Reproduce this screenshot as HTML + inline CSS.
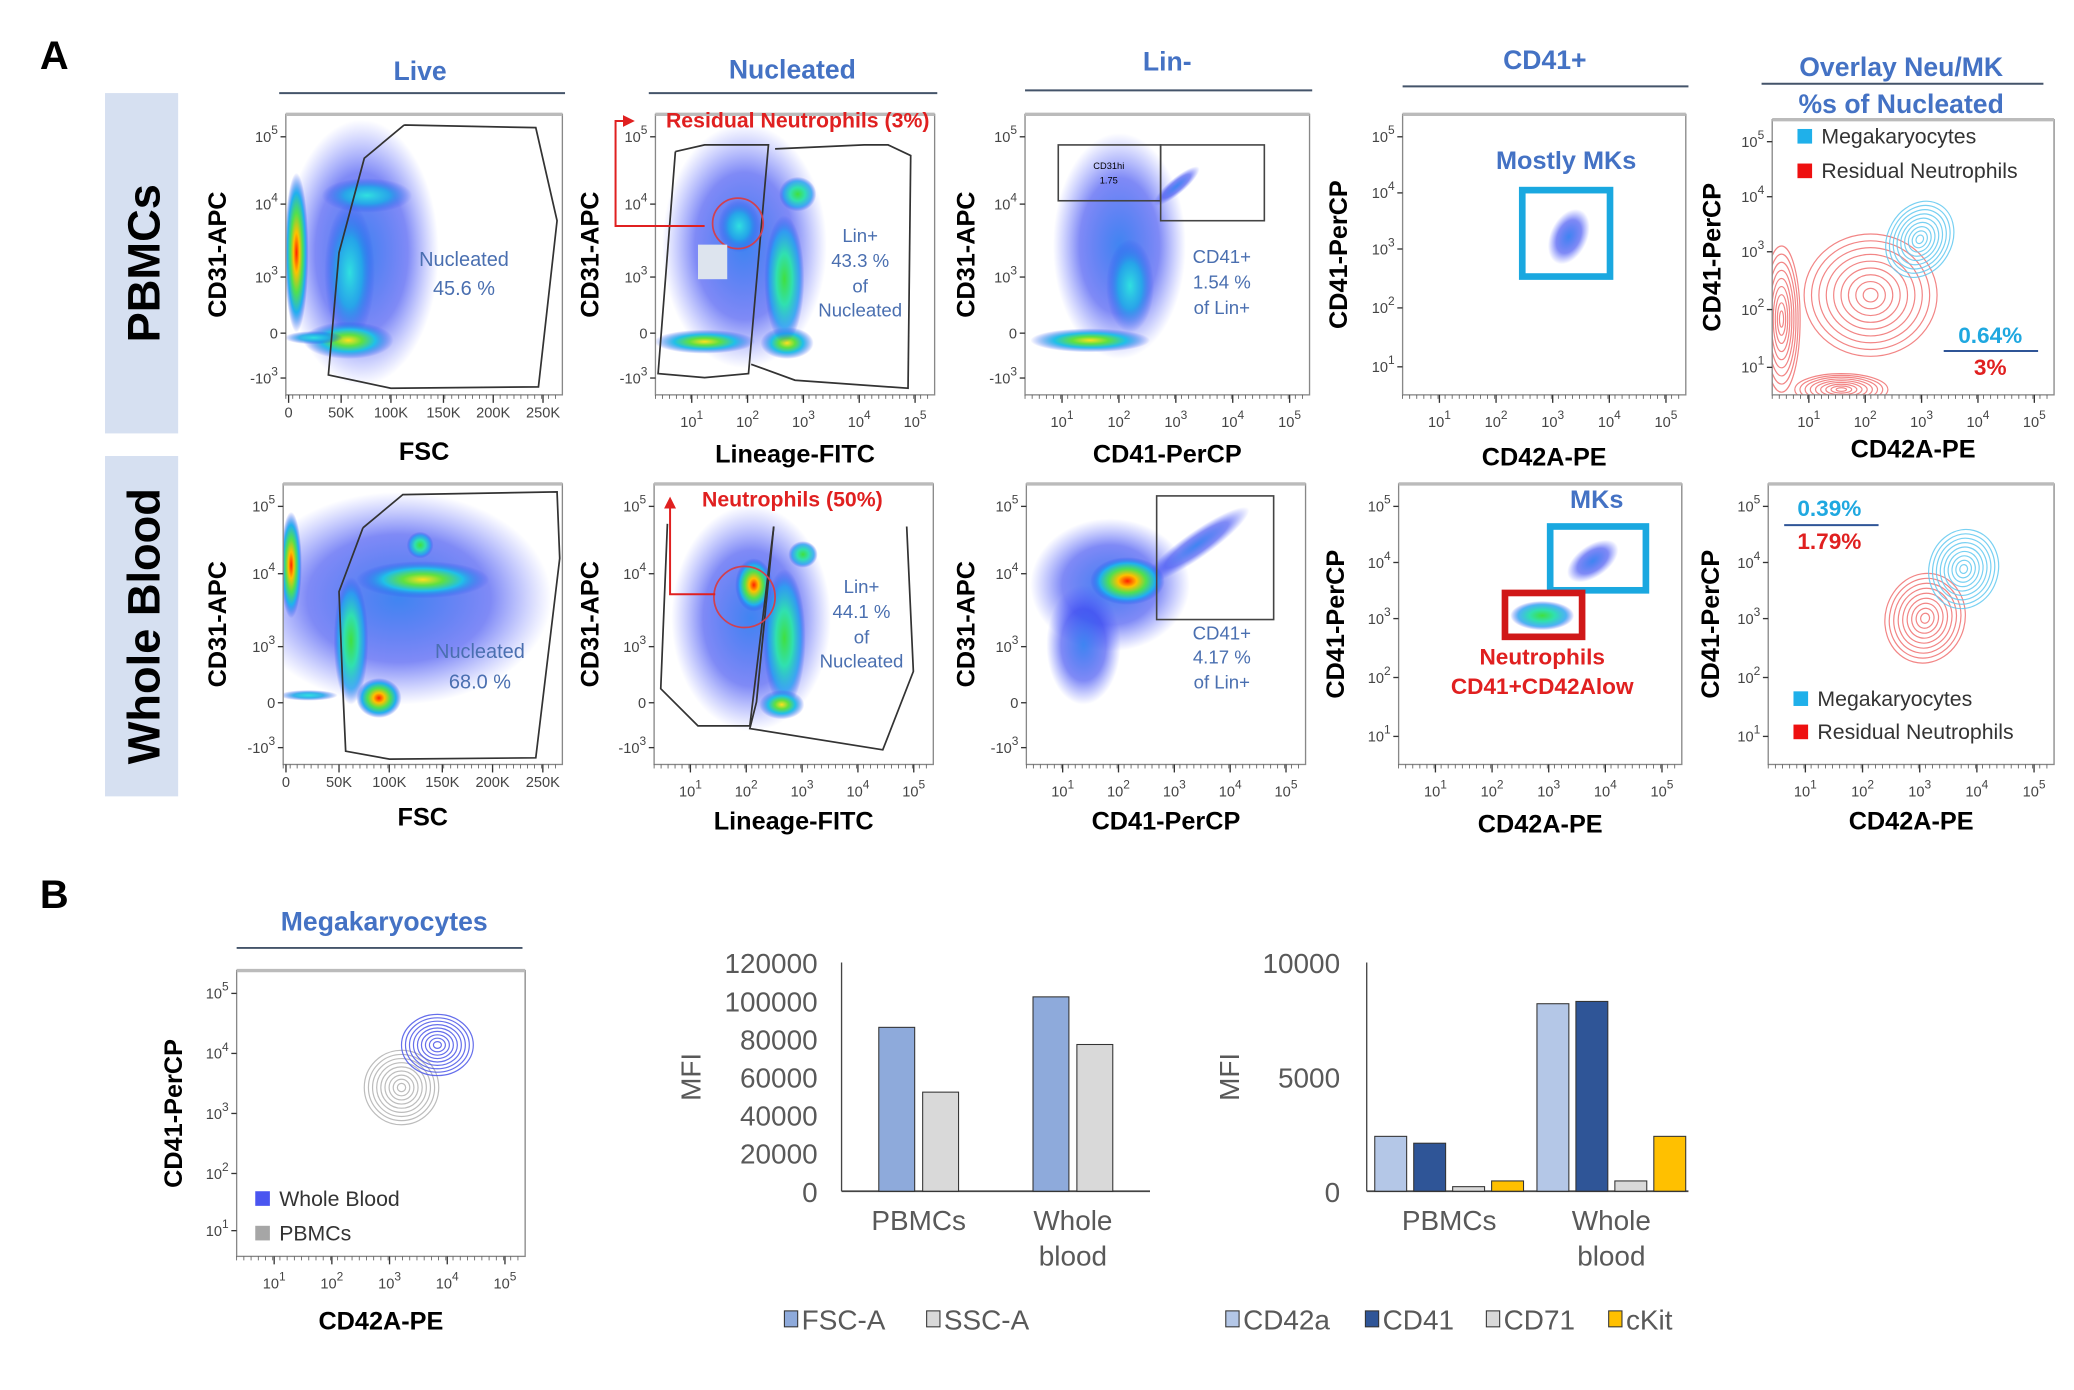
<!DOCTYPE html>
<html><head><meta charset="utf-8"><style>
html,body{margin:0;padding:0;background:#fff}
svg{display:block}
text{font-family:"Liberation Sans",sans-serif}
</style></head><body>
<svg id="fig" width="2074" height="1390" viewBox="0 0 1560 1045.5" xmlns="http://www.w3.org/2000/svg">
<defs>
<radialGradient id="g-blue"><stop offset="0" stop-color="#2a78f0" stop-opacity="0.9"/><stop offset="0.6" stop-color="#2a3cf0" stop-opacity="0.6"/><stop offset="1" stop-color="#4050ff" stop-opacity="0"/></radialGradient>
<radialGradient id="g-cyan"><stop offset="0" stop-color="#30e0e0"/><stop offset="0.5" stop-color="#20a8e8" stop-opacity="0.9"/><stop offset="1" stop-color="#2a40f0" stop-opacity="0"/></radialGradient>
<radialGradient id="g-green"><stop offset="0" stop-color="#40e040"/><stop offset="0.4" stop-color="#30e0b0"/><stop offset="0.75" stop-color="#20a0f0" stop-opacity="0.8"/><stop offset="1" stop-color="#2a40f0" stop-opacity="0"/></radialGradient>
<radialGradient id="g-warm"><stop offset="0" stop-color="#ffe020"/><stop offset="0.3" stop-color="#60e040"/><stop offset="0.6" stop-color="#20c0e8"/><stop offset="1" stop-color="#2a40f0" stop-opacity="0"/></radialGradient>
<radialGradient id="g-heat"><stop offset="0" stop-color="#ff2000"/><stop offset="0.25" stop-color="#ffc000"/><stop offset="0.5" stop-color="#50e050"/><stop offset="0.75" stop-color="#20b0f0"/><stop offset="1" stop-color="#2a40f0" stop-opacity="0"/></radialGradient>
<marker id="arr" markerWidth="6" markerHeight="6" refX="3" refY="3" orient="auto"><path d="M0,0 L6,3 L0,6 z" fill="#e02020"/></marker>
</defs>
</svg>
<script>
// ---- bar chart data ----
const groups = ["PBMCs", "Whole blood"];
const fscA = [86000, 102000];
const sscA = [52000, 77000];
const ticks1 = [0, 20000, 40000, 60000, 80000, 100000, 120000];
const cd42a = [2400, 8200];
const cd41 = [2100, 8300];
const cd71 = [200, 450];
const ckit = [450, 2400];
const ticks2 = [0, 5000, 10000];

const NS = "http://www.w3.org/2000/svg";
const svg = document.getElementById('fig');
function mk(tag, attrs, name, parent) {
  const el = document.createElementNS(NS, tag);
  for (const k in attrs) el.setAttribute(k, attrs[k]);
  
  
  (parent || svg).appendChild(el);
  return el;
}
function txt(x, y, s, attrs, name, parent) {
  const a = Object.assign({x: x, y: y}, attrs || {});
  const t = mk('text', a, name, parent);
  t.textContent = s;
  return t;
}
function sup(x, y, base, exp, anchor, name, parent) {
  const t = mk('text', {x: x, y: y, 'font-size': 11, fill: '#444', 'text-anchor': anchor || 'middle'}, name, parent);
  const a = document.createElementNS(NS, 'tspan'); a.textContent = base; t.appendChild(a);
  const b = document.createElementNS(NS, 'tspan'); b.setAttribute('dy', -6); b.setAttribute('font-size', 9); b.textContent = exp; t.appendChild(b);
  return t;
}

txt(30, 52, "A", {'font-size': 30, 'font-weight': 'bold'}, 'panel-a-label');
txt(30, 683, "B", {'font-size': 30, 'font-weight': 'bold'}, 'panel-b-label');
mk('rect', {x: 79, y: 70, width: 55, height: 256, fill: '#d6e0f1'}, 'row-label-bg-pbmcs');
mk('rect', {x: 79, y: 343, width: 55, height: 256, fill: '#d6e0f1'}, 'row-label-bg-whole-blood');
txt(0, 0, "PBMCs", {'font-size': 34, 'font-weight': 'bold', 'text-anchor': 'middle', transform: 'translate(120,198) rotate(-90)'}, 'row-label-pbmcs');
txt(0, 0, "Whole Blood", {'font-size': 34, 'font-weight': 'bold', 'text-anchor': 'middle', transform: 'translate(120,471) rotate(-90)'}, 'row-label-whole-blood');

const headers = [["Live", 316, 60, 210, 425, 70], ["Nucleated", 596, 59, 488, 705, 70], ["Lin-", 878, 53, 771, 987, 68], ["CD41+", 1162, 52, 1055, 1270, 65], ["Overlay Neu/MK", 1430, 57, 1325, 1537, 63]];
headers.forEach(h => {
  txt(h[1], h[2], h[0], {'font-size': 20, 'font-weight': 'bold', fill: '#4472c4', 'text-anchor': 'middle'}, 'header-' + h[0].toLowerCase().replace(/[^a-z0-9]+/g, '-'));
  mk('line', {x1: h[3], x2: h[4], y1: h[5], y2: h[5], stroke: '#44546a', 'stroke-width': 1.5}, 'header-rule');
});
txt(1430, 85, "%s of Nucleated", {'font-size': 20, 'font-weight': 'bold', fill: '#4472c4', 'text-anchor': 'middle'}, 'header-overlay-subtitle');
txt(289, 700, "Megakaryocytes", {'font-size': 20, 'font-weight': 'bold', fill: '#4472c4', 'text-anchor': 'middle'}, 'header-megakaryocytes');
mk('line', {x1: 178, x2: 393, y1: 713, y2: 713, stroke: '#44546a', 'stroke-width': 1.5}, 'header-rule');

const yCD31 = [["10", "5", .08], ["10", "4", .32], ["10", "3", .58], ["0", "", .78], ["-10", "3", .94]];
const yLog = [["10", "5", .08], ["10", "4", .28], ["10", "3", .48], ["10", "2", .69], ["10", "1", .9]];
const xLog = [["10", "1", .13], ["10", "2", .33], ["10", "3", .53], ["10", "4", .73], ["10", "5", .93]];
const xFsc = [["0", "", .01], ["50K", "", .2], ["100K", "", .38], ["150K", "", .57], ["200K", "", .75], ["250K", "", .93]];

function panel(p) {
  const g = mk('g', {}, p.name);
  const clipId = 'clip-' + p.name;
  const cp = mk('clipPath', {id: clipId}, 'clip', g);
  mk('rect', {x: p.x, y: p.y, width: p.w, height: p.h}, 'clip-rect', cp);
  const inner = mk('g', {'clip-path': 'url(#' + clipId + ')'}, 'plot-area', g);
  (p.blobs || []).forEach(b => {
    mk('ellipse', {cx: b[0], cy: b[1], rx: b[2], ry: b[3], fill: 'url(#g-' + b[4] + ')', transform: 'rotate(' + (b[5] || 0) + ' ' + b[0] + ' ' + b[1] + ')'}, 'density-cloud', inner);
  });
  (p.contours || []).forEach(c => {
    for (let i = 1; i <= 9; i++) {
      mk('ellipse', {cx: c[0] + (c[5] || 0) * i, cy: c[1], rx: c[2] * i / 9, ry: c[3] * i / 9, fill: 'none', stroke: c[4], 'stroke-width': 0.9, 'stroke-opacity': 0.85, transform: 'rotate(' + (c[6] || 0) + ' ' + c[0] + ' ' + c[1] + ')'}, 'contour-ring', inner);
    }
  });
  if (p.extra) p.extra(inner);
  mk('rect', {x: p.x, y: p.y, width: p.w, height: p.h, fill: 'none', stroke: '#888', 'stroke-width': 1}, 'plot-frame', g);
  mk('line', {x1: p.x, x2: p.x + p.w, y1: p.y, y2: p.y, stroke: '#bbb', 'stroke-width': 2.5}, 'plot-top-border', g);
  p.yt.forEach(t => {
    const yy = p.y + t[2] * p.h;
    mk('line', {x1: p.x - 4, x2: p.x, y1: yy, y2: yy, stroke: '#333'}, 'y-tick', g);
    if (t[1]) sup(p.x - 6, yy + 4, t[0], t[1], 'end', 'y-tick-label', g);
    else txt(p.x - 6, yy + 4, t[0], {'font-size': 11, fill: '#444', 'text-anchor': 'end'}, 'y-tick-label', g);
  });
  for (let i = 0; i < 40; i++) mk('line', {x1: p.x + i * p.w / 40, x2: p.x + i * p.w / 40, y1: p.y + p.h, y2: p.y + p.h + 3, stroke: '#555', 'stroke-width': 0.6}, 'x-minor-tick', g);
  p.xt.forEach(t => {
    const xx = p.x + t[2] * p.w;
    mk('line', {x1: xx, x2: xx, y1: p.y + p.h, y2: p.y + p.h + 6, stroke: '#333'}, 'x-tick', g);
    if (t[1]) sup(xx, p.y + p.h + 24, t[0], t[1], 'middle', 'x-tick-label', g);
    else txt(xx, p.y + p.h + 17, t[0], {'font-size': 11, fill: '#444', 'text-anchor': 'middle'}, 'x-tick-label', g);
  });
  txt(p.xlx || (p.x + p.w / 2), p.xly, p.xl, {'font-size': 19, 'font-weight': 'bold', 'text-anchor': 'middle'}, 'x-axis-title', g);
  txt(0, 0, p.yl, {'font-size': 19, 'font-weight': 'bold', 'text-anchor': 'middle', transform: 'translate(' + p.ylx + ',' + (p.y + p.h / 2) + ') rotate(-90)'}, 'y-axis-title', g);
  return g;
}
function poly(parent, pts, name, color) {
  mk('polyline', {points: pts, fill: 'none', stroke: color || '#333', 'stroke-width': 1.3}, name, parent);
}
function blueTxt(parent, x, ys, lines, name, size) {
  lines.forEach((l, i) => txt(x, ys[i], l, {'font-size': size || 15, fill: '#4a6fb0', 'text-anchor': 'middle'}, name, parent));
}

panel({name: 'plot-pbmc-live', x: 215, y: 86, w: 208, h: 211, yt: yCD31, xt: xFsc, xl: 'FSC', xly: 346, yl: 'CD31-APC', ylx: 170,
  blobs: [[272, 190, 58, 100, 'blue'], [223, 190, 9, 60, 'heat'], [276, 147, 34, 13, 'cyan'], [263, 205, 19, 52, 'cyan'], [262, 256, 34, 14, 'warm'], [236, 254, 22, 5, 'cyan']],
  extra: g => { poly(g, '304,94 403,96 419,166 405,291 294,292 247,282 255,190 274,119 304,94', 'gate-nucleated');
    blueTxt(g, 349, [200, 222], ['Nucleated', '45.6 %'], 'gate-label'); }});
panel({name: 'plot-pbmc-nucleated', x: 493, y: 86, w: 210, h: 211, yt: yCD31, xt: xLog, xl: 'Lineage-FITC', xly: 348, yl: 'CD31-APC', ylx: 450,
  blobs: [[560, 185, 62, 92, 'blue'], [530, 257, 38, 9, 'warm'], [592, 258, 20, 12, 'warm'], [590, 210, 15, 48, 'green'], [600, 146, 14, 13, 'green'], [556, 170, 16, 20, 'cyan']],
  extra: g => { poly(g, '508,114 530,109 578,109 563,281 530,284 495,281 508,114', 'gate-lin-neg');
    poly(g, '583,112 650,109 668,109 685,117 683,292 598,286 565,274', 'gate-lin-pos');
    mk('circle', {cx: 555, cy: 168, r: 19, fill: 'none', stroke: '#d04050', 'stroke-width': 1.3}, 'neutrophil-gate', g);
    mk('rect', {x: 525, y: 184, width: 22, height: 26, fill: '#dde4ee'}, 'lin-neg-label-bg', g);
    blueTxt(g, 647, [182, 201, 220, 238], ['Lin+', '43.3 %', 'of', 'Nucleated'], 'gate-label', 14); }});
panel({name: 'plot-pbmc-lin-neg', x: 771, y: 86, w: 214, h: 211, yt: yCD31, xt: xLog, xl: 'CD41-PerCP', xly: 348, yl: 'CD31-APC', ylx: 733,
  blobs: [[842, 185, 50, 85, 'blue'], [885, 140, 22, 6, 'blue', -40], [820, 256, 45, 9, 'warm'], [850, 215, 18, 35, 'cyan']],
  extra: g => { mk('rect', {x: 796, y: 109, width: 77, height: 42, fill: 'none', stroke: '#444', 'stroke-width': 1.2}, 'gate-cd31hi', g);
    mk('rect', {x: 873, y: 109, width: 78, height: 57, fill: 'none', stroke: '#444', 'stroke-width': 1.2}, 'gate-cd41pos', g);
    txt(834, 127, 'CD31hi', {'font-size': 7, 'text-anchor': 'middle'}, 'gate-cd31hi-label', g);
    txt(834, 138, '1.75', {'font-size': 7, 'text-anchor': 'middle'}, 'gate-cd31hi-value', g);
    blueTxt(g, 919, [198, 217, 236], ['CD41+', '1.54 %', 'of Lin+'], 'gate-label', 14); }});
panel({name: 'plot-pbmc-cd41pos', x: 1055, y: 86, w: 213, h: 211, yt: yLog, xt: xLog, xl: 'CD42A-PE', xly: 350, yl: 'CD41-PerCP', ylx: 1013,
  blobs: [[1180, 178, 14, 22, 'blue', 25]],
  extra: g => { mk('rect', {x: 1145, y: 143, width: 66, height: 65, fill: 'none', stroke: '#1aa8e0', 'stroke-width': 5}, 'gate-mks', g);
    txt(1178, 127, 'Mostly MKs', {'font-size': 19, 'font-weight': 'bold', fill: '#4472c4', 'text-anchor': 'middle'}, 'gate-mks-label', g); }});
panel({name: 'plot-pbmc-overlay', x: 1333, y: 90, w: 212, h: 207, yt: yLog, xt: xLog, xl: 'CD42A-PE', xly: 344, yl: 'CD41-PerCP', ylx: 1294,
  contours: [[1407, 222, 50, 46, '#f07070', 0, 0], [1340, 240, 14, 55, '#f07070'], [1385, 293, 35, 12, '#f07070'], [1444, 180, 24, 30, '#60c8f0', 0, 30]],
  extra: g => {
    mk('rect', {x: 1352, y: 97, width: 11, height: 11, fill: '#1fb0ea'}, 'legend-swatch-megakaryocytes', g);
    txt(1370, 108, 'Megakaryocytes', {'font-size': 16, fill: '#333'}, 'legend-megakaryocytes', g);
    mk('rect', {x: 1352, y: 123, width: 11, height: 11, fill: '#ee1010'}, 'legend-swatch-neutrophils', g);
    txt(1370, 134, 'Residual Neutrophils', {'font-size': 16, fill: '#333'}, 'legend-neutrophils', g);
    txt(1497, 258, '0.64%', {'font-size': 17, 'font-weight': 'bold', fill: '#1fa8e0', 'text-anchor': 'middle'}, 'mk-percent', g);
    mk('line', {x1: 1462, x2: 1533, y1: 264, y2: 264, stroke: '#2f5597', 'stroke-width': 1.5}, 'ratio-rule', g);
    txt(1497, 282, '3%', {'font-size': 17, 'font-weight': 'bold', fill: '#e02020', 'text-anchor': 'middle'}, 'neutrophil-percent', g); }});

panel({name: 'plot-wb-live', x: 213, y: 364, w: 210, h: 211, yt: yCD31, xt: xFsc, xl: 'FSC', xly: 621, yl: 'CD31-APC', ylx: 170,
  blobs: [[300, 450, 115, 80, 'blue'], [219, 425, 8, 40, 'heat'], [318, 436, 50, 14, 'warm'], [264, 482, 13, 48, 'green'], [285, 525, 17, 15, 'heat'], [316, 410, 10, 10, 'green'], [232, 523, 22, 4, 'cyan']],
  extra: g => { poly(g, '273,397 303,372 419,370 421,420 403,570 293,571 260,565 258,521 255,445 273,397', 'gate-nucleated');
    blueTxt(g, 361, [495, 518], ['Nucleated', '68.0 %'], 'gate-label'); }});
panel({name: 'plot-wb-nucleated', x: 492, y: 364, w: 210, h: 211, yt: yCD31, xt: xLog, xl: 'Lineage-FITC', xly: 624, yl: 'CD31-APC', ylx: 450,
  blobs: [[565, 465, 60, 85, 'blue'], [590, 480, 16, 52, 'green'], [567, 440, 14, 20, 'heat'], [604, 417, 11, 10, 'green'], [588, 530, 17, 11, 'warm']],
  extra: g => { poly(g, '502,394 497,518 525,546 564,546 582,396', 'gate-lin-neg');
    poly(g, '582,396 569,528 564,548 664,564 687,505 682,396', 'gate-lin-pos');
    mk('circle', {cx: 560, cy: 449, r: 23, fill: 'none', stroke: '#d04050', 'stroke-width': 1.3}, 'neutrophil-gate', g);
    blueTxt(g, 648, [446, 465, 484, 502], ['Lin+', '44.1 %', 'of', 'Nucleated'], 'gate-label', 14); }});
panel({name: 'plot-wb-lin-neg', x: 772, y: 364, w: 210, h: 211, yt: yCD31, xt: xLog, xl: 'CD41-PerCP', xly: 624, yl: 'CD31-APC', ylx: 733,
  blobs: [[835, 440, 60, 50, 'blue'], [815, 485, 28, 45, 'blue'], [900, 410, 48, 10, 'blue', -35], [848, 437, 28, 18, 'heat']],
  extra: g => { mk('rect', {x: 870, y: 373, width: 88, height: 93, fill: 'none', stroke: '#444', 'stroke-width': 1.2}, 'gate-cd41pos', g);
    blueTxt(g, 919, [481, 499, 518], ['CD41+', '4.17 %', 'of Lin+'], 'gate-label', 14); }});
panel({name: 'plot-wb-cd41pos', x: 1052, y: 364, w: 213, h: 211, yt: yLog, xt: xLog, xl: 'CD42A-PE', xly: 626, yl: 'CD41-PerCP', ylx: 1011,
  blobs: [[1160, 463, 24, 11, 'green'], [1198, 422, 22, 12, 'blue', -35]],
  extra: g => { mk('rect', {x: 1166, y: 396, width: 72, height: 48, fill: 'none', stroke: '#1aa8e0', 'stroke-width': 5}, 'gate-mks', g);
    mk('rect', {x: 1132, y: 446, width: 58, height: 33, fill: 'none', stroke: '#d01818', 'stroke-width': 5}, 'gate-neutrophils', g);
    txt(1201, 382, 'MKs', {'font-size': 19, 'font-weight': 'bold', fill: '#4472c4', 'text-anchor': 'middle'}, 'gate-mks-label', g);
    txt(1160, 500, 'Neutrophils', {'font-size': 17, 'font-weight': 'bold', fill: '#e02020', 'text-anchor': 'middle'}, 'gate-neutrophils-label', g);
    txt(1160, 522, 'CD41+CD42Alow', {'font-size': 17, 'font-weight': 'bold', fill: '#e02020', 'text-anchor': 'middle'}, 'gate-neutrophils-sublabel', g); }});
panel({name: 'plot-wb-overlay', x: 1330, y: 364, w: 215, h: 211, yt: yLog, xt: xLog, xl: 'CD42A-PE', xly: 624, yl: 'CD41-PerCP', ylx: 1293,
  contours: [[1448, 465, 30, 34, '#f07070', 0, 15], [1477, 428, 26, 30, '#60c8f0', 0, 15]],
  extra: g => {
    txt(1376, 388, '0.39%', {'font-size': 17, 'font-weight': 'bold', fill: '#1fa8e0', 'text-anchor': 'middle'}, 'mk-percent', g);
    mk('line', {x1: 1342, x2: 1413, y1: 395, y2: 395, stroke: '#2f5597', 'stroke-width': 1.5}, 'ratio-rule', g);
    txt(1376, 413, '1.79%', {'font-size': 17, 'font-weight': 'bold', fill: '#e02020', 'text-anchor': 'middle'}, 'neutrophil-percent', g);
    mk('rect', {x: 1349, y: 520, width: 11, height: 11, fill: '#1fb0ea'}, 'legend-swatch-megakaryocytes', g);
    txt(1367, 531, 'Megakaryocytes', {'font-size': 16, fill: '#333'}, 'legend-megakaryocytes', g);
    mk('rect', {x: 1349, y: 545, width: 11, height: 11, fill: '#ee1010'}, 'legend-swatch-neutrophils', g);
    txt(1367, 556, 'Residual Neutrophils', {'font-size': 16, fill: '#333'}, 'legend-neutrophils', g); }});

mk('polyline', {points: '530,170 463,170 463,91 473,91', fill: 'none', stroke: '#e02020', 'stroke-width': 1.5, 'marker-end': 'url(#arr)'}, 'arrow-residual-neutrophils');
txt(600, 96, 'Residual Neutrophils (3%)', {'font-size': 16, 'font-weight': 'bold', fill: '#e02020', 'text-anchor': 'middle'}, 'label-residual-neutrophils');
mk('polyline', {points: '538,447 504,447 504,378', fill: 'none', stroke: '#e02020', 'stroke-width': 1.5, 'marker-end': 'url(#arr)'}, 'arrow-neutrophils');
txt(596, 381, 'Neutrophils (50%)', {'font-size': 16, 'font-weight': 'bold', fill: '#e02020', 'text-anchor': 'middle'}, 'label-neutrophils');

panel({name: 'plot-mk-overlay', x: 178, y: 730, w: 217, h: 215,
  yt: [["10", "5", .08], ["10", "4", .29], ["10", "3", .5], ["10", "2", .71], ["10", "1", .91]], xt: xLog,
  xl: 'CD42A-PE', xly: 1000, yl: 'CD41-PerCP', ylx: 137,
  contours: [[302, 818, 28, 28, '#b0b0b0', 0, 0], [329, 786, 27, 23, '#4a55e8', 0, 0]],
  extra: g => {
    mk('rect', {x: 192, y: 896, width: 11, height: 11, fill: '#4a55f0'}, 'legend-swatch-whole-blood', g);
    txt(210, 907, 'Whole Blood', {'font-size': 16, fill: '#333'}, 'legend-whole-blood', g);
    mk('rect', {x: 192, y: 922, width: 11, height: 11, fill: '#a6a6a6'}, 'legend-swatch-pbmcs', g);
    txt(210, 933, 'PBMCs', {'font-size': 16, fill: '#333'}, 'legend-pbmcs', g); }});

// ---- bar charts ----
const GRAY = '#595959';
const FS = 21;
function y1(v) { return 896 - v / 120000 * 172; }
function y2(v) { return 896 - v / 10000 * 172; }
const c1 = mk('g', {}, 'bar-chart-scatter-mfi');
mk('line', {x1: 633, x2: 633, y1: 724, y2: 896, stroke: '#444'}, 'y-axis', c1);
mk('line', {x1: 633, x2: 865, y1: 896, y2: 896, stroke: '#444', 'stroke-width': 1.3}, 'x-axis', c1);
ticks1.forEach(t => txt(615, y1(t) + 8, String(t), {'font-size': FS, fill: GRAY, 'text-anchor': 'end'}, 'y-tick-label', c1));
txt(0, 0, 'MFI', {'font-size': FS, fill: GRAY, 'text-anchor': 'middle', transform: 'translate(527,810) rotate(-90)'}, 'y-axis-title', c1);
const gc1 = [691, 807];
const s1 = [{vals: fscA, col: '#8eaadb', off: -16.5, n: 'fsc-a'}, {vals: sscA, col: '#d9d9d9', off: 16.5, n: 'ssc-a'}];
s1.forEach(s => s.vals.forEach((v, i) => {
  mk('rect', {x: gc1[i] + s.off - 13.5, y: y1(v), width: 27, height: 896 - y1(v), fill: s.col, stroke: '#333', 'stroke-width': 0.8}, 'bar-' + s.n + '-' + i, c1);
}));

const c2 = mk('g', {}, 'bar-chart-marker-mfi');
mk('line', {x1: 1028, x2: 1028, y1: 724, y2: 896, stroke: '#444'}, 'y-axis', c2);
mk('line', {x1: 1028, x2: 1270, y1: 896, y2: 896, stroke: '#444', 'stroke-width': 1.3}, 'x-axis', c2);
ticks2.forEach(t => txt(1008, y2(t) + 8, String(t), {'font-size': FS, fill: GRAY, 'text-anchor': 'end'}, 'y-tick-label', c2));
txt(0, 0, 'MFI', {'font-size': FS, fill: GRAY, 'text-anchor': 'middle', transform: 'translate(932,810) rotate(-90)'}, 'y-axis-title', c2);
const gc2 = [1090, 1212];
const s2 = [{vals: cd42a, col: '#b4c7e7', n: 'cd42a'}, {vals: cd41, col: '#2f5597', n: 'cd41'}, {vals: cd71, col: '#d9d9d9', n: 'cd71'}, {vals: ckit, col: '#ffc000', n: 'ckit'}];
s2.forEach((s, k) => s.vals.forEach((v, i) => {
  const cx = gc2[i] + (k - 1.5) * 29.3;
  mk('rect', {x: cx - 12, y: y2(v), width: 24, height: 896 - y2(v), fill: s.col, stroke: '#333', 'stroke-width': 0.8}, 'bar-' + s.n + '-' + i, c2);
}));
[[gc1, c1], [gc2, c2]].forEach(pair => {
  pair[0].forEach((cx, i) => {
    const parts = groups[i].split(' ');
    parts.forEach((p, j) => txt(cx, 925 + j * 27, p, {'font-size': FS, fill: GRAY, 'text-anchor': 'middle'}, 'x-category-label', pair[1]));
  });
});
const leg1 = [['FSC-A', '#8eaadb', 590], ['SSC-A', '#d9d9d9', 697]];
leg1.forEach(l => { mk('rect', {x: l[2], y: 986, width: 10, height: 12, fill: l[1], stroke: '#333', 'stroke-width': 0.8}, 'legend-swatch', c1);
  txt(l[2] + 13, 1000, l[0], {'font-size': FS, fill: GRAY}, 'legend-entry', c1); });
const leg2 = [['CD42a', '#b4c7e7', 922], ['CD41', '#2f5597', 1027], ['CD71', '#d9d9d9', 1118], ['cKit', '#ffc000', 1210]];
leg2.forEach(l => { mk('rect', {x: l[2], y: 986, width: 10, height: 12, fill: l[1], stroke: '#333', 'stroke-width': 0.8}, 'legend-swatch', c2);
  txt(l[2] + 13, 1000, l[0], {'font-size': FS, fill: GRAY}, 'legend-entry', c2); });
</script>
</body></html>
